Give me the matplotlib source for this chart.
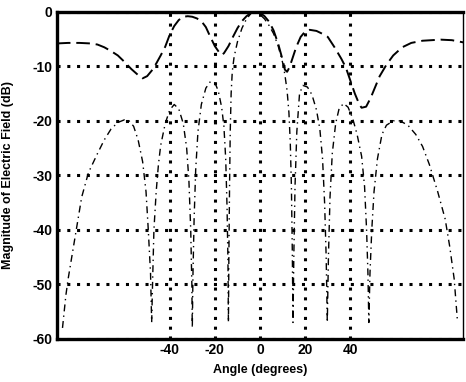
import numpy as np
import matplotlib
matplotlib.use("Agg")
import matplotlib.pyplot as plt

# ---- combined field pattern (long dashes) ----
env_angle = [-90, -85, -80, -75, -72, -69, -66, -63, -60, -57, -54, -52, -50, -48,
             -46, -44, -42, -40, -38, -36, -34, -32, -30, -28, -26, -24, -22, -20,
             -18, -17, -16, -14, -12, -10, -8, -6, -4, -2, 0, 2, 4, 6, 8, 10, 11,
             12, 13, 14, 16, 18, 20, 22, 25, 27, 30, 33, 36, 38, 40, 42, 44, 45,
             47, 49, 51, 53, 56, 59, 63, 67, 72, 80, 85, 90]
env_db = [-5.8, -5.7, -5.7, -5.8, -6.0, -6.5, -7.2, -8.0, -9.2, -10.5, -11.6, -12.2,
          -11.8, -10.8, -9.5, -8.0, -6.4, -4.2, -2.6, -1.5, -0.9, -0.8, -0.9, -1.2,
          -1.7, -2.8, -4.6, -6.3, -7.5, -7.9, -7.6, -6.3, -4.6, -3.0, -1.7, -0.8,
          -0.2, 0.0, -0.2, -0.8, -1.8, -3.4, -5.8, -8.8, -10.6, -11.0, -10.2, -9.0,
          -6.5, -4.6, -3.6, -3.3, -3.5, -3.9, -4.6, -6.5, -8.6, -10.2, -12.6, -15.0,
          -17.0, -17.6, -17.4, -15.8, -13.8, -11.8, -9.7, -8.0, -6.5, -5.7, -5.3,
          -5.1, -5.2, -5.6]

# ---- single beam pattern with nulls (dash-dot) ----
beam_angle = [-87.5, -87, -86, -85, -83, -81, -79, -76, -72, -69, -66, -63, -60, -58,
              -56, -54, -52, -50.5, -49.5, -48.5, -48, -47.5, -47, -46, -45, -44,
              -42, -40, -38, -36, -34, -32.5, -31.5, -30.7, -30.2, -30, -29.7,
              -29.2, -28.5, -27.5, -26, -24, -22, -20, -18.5, -17, -16, -15.2,
              -14.6, -14.2, -14, -13.8, -13.5, -13.2, -12.8, -12.3, -11.5, -10, -8,
              -6, -4, -2, 0, 2, 4, 6, 8, 10, 11, 12, 12.8, 13.4, 13.9, 14.3, 14.6,
              15, 15.5, 16.3, 17.5, 19, 21, 23, 25, 26.5, 27.7, 28.6, 29.3, 29.8,
              30.3, 31, 32, 33.5, 35, 37, 39, 41, 43, 45, 46.3, 47.2, 47.8, 48.2,
              48.7, 49.5, 50.5, 52, 54, 56, 59, 62, 65.5, 69, 72, 75, 78.7, 82, 84,
              86, 87.5]
beam_db = [-58, -56, -52, -49, -44, -39, -34, -29.5, -26, -23.5, -21.5, -20.3, -19.8,
           -20, -21, -23.5, -27.5, -33, -40, -48, -57, -48, -40, -33, -28, -24.5,
           -20.5, -18, -17, -17.8, -20.5, -25, -31, -40, -50, -58, -48, -38, -29,
           -22, -17, -14, -12.8, -13, -14.5, -17.5, -21, -27, -36, -46, -57, -45,
           -32, -22, -15, -11, -8.3, -5.5, -3, -1.3, -0.3, 0, -0.5, -1.3, -2.5, -4,
           -6.2, -9.3, -11.5, -14.5, -18.5, -24, -32, -44, -57, -44, -32, -22, -15,
           -13.5, -13.8, -15.2, -18, -21.5, -27, -35, -45, -57, -45, -34, -26,
           -20.5, -17.8, -16.8, -17.5, -19.5, -22.5, -26.5, -32, -40, -48, -57,
           -48, -40, -33, -27, -22.5, -20.8, -20, -20, -20.8, -22.5, -24.7, -28,
           -33, -38, -43, -49, -57]

x_ticks = [-40, -20, 0, 20, 40]
y_ticks = [0, -10, -20, -30, -40, -50, -60]

plt.rcParams['font.family'] = ['Liberation Sans', 'DejaVu Sans']

fig = plt.figure(figsize=(4.66, 3.82), dpi=100)
ax = fig.add_axes([0.122, 0.113, 0.872, 0.856])

ax.plot(env_angle, env_db, color='black', lw=1.4, dashes=(7, 3))
ax.plot(beam_angle, beam_db, color='black', lw=1.0, dashes=(5, 3, 1, 3))

ax.set_xlim(-90, 90)
ax.set_ylim(-60, 0)
ax.set_xticks(x_ticks)
ax.set_yticks(y_ticks)
ax.set_xticklabels([str(t) for t in x_ticks], fontsize=10, fontweight='bold')
ax.set_yticklabels([str(t) for t in y_ticks], fontsize=10, fontweight='bold')
ax.tick_params(length=0, pad=3)
ax.grid(True, color='black', linestyle=(0, (1, 2.2)), linewidth=2.2)

for side in ['left', 'bottom', 'top']:
    ax.spines[side].set_linewidth(2.4)
ax.spines['right'].set_linewidth(1.0)

ax.set_xlabel('Angle (degrees)', fontsize=9, fontweight='bold', labelpad=5)
ax.set_ylabel('Magnitude of Electric Field (dB)', fontsize=9, fontweight='bold',
              labelpad=4)
ax.yaxis.set_label_coords(-0.105, 0.5)

fig.savefig('out.png', dpi=100)
